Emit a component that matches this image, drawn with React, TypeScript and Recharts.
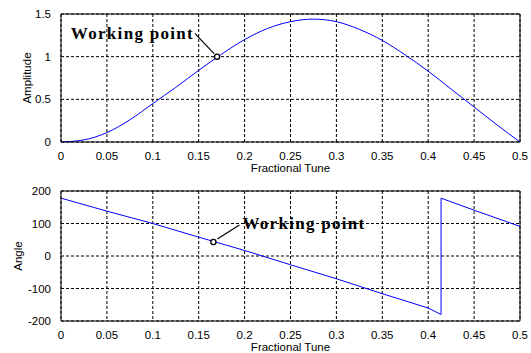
import React from "react";
import {
  LineChart,
  Line,
  XAxis,
  YAxis,
  CartesianGrid,
  ReferenceDot,
  ReferenceLine,
} from "recharts";

// top plot: amplitude vs fractional tune
const tune = [
  0, 0.025, 0.05, 0.075, 0.1, 0.125, 0.15, 0.175, 0.2, 0.225, 0.25, 0.275, 0.3,
  0.325, 0.35, 0.375, 0.4, 0.425, 0.45, 0.475, 0.5,
];
const amplitude = [
  0, 0.025, 0.11, 0.26, 0.45, 0.64, 0.84, 1.03, 1.2, 1.33, 1.41, 1.44, 1.41,
  1.32, 1.19, 1.02, 0.83, 0.62, 0.41, 0.2, 0,
];

// bottom plot: angle vs fractional tune (wraps at ~0.414)
const angleTune = [0, 0.05, 0.1, 0.15, 0.2, 0.25, 0.3, 0.35, 0.4, 0.414, 0.414, 0.45, 0.5];
const angle = [178, 138, 100, 58, 17, -27, -70, -116, -160, -180, 178, 141, 91];

const xTicks = [0, 0.05, 0.1, 0.15, 0.2, 0.25, 0.3, 0.35, 0.4, 0.45, 0.5];
const ampTicks = [0, 0.5, 1, 1.5];
const angleTicks = [-200, -100, 0, 100, 200];

const workingAmp = { x: 0.17, y: 1 };
const workingAngle = { x: 0.166, y: 43 };

const ampData = tune.map((t, i) => ({ t, v: amplitude[i] }));
const angleData = angleTune.map((t, i) => ({ t, v: angle[i] }));

const tickStyle = { fill: "#000", fontSize: 11.5, fontFamily: "Liberation Sans, Arial, sans-serif" };
const labelStyle = { fill: "#000", fontSize: 11.5, fontFamily: "Liberation Sans, Arial, sans-serif" };
const noteStyle = {
  fill: "#000",
  fontSize: 17,
  fontWeight: "bold" as const,
  fontFamily: "Liberation Serif, Times New Roman, serif",
  letterSpacing: 1.3,
};

// open circle with a leader line and text, drawn relative to the dot
const WorkingPoint = (side: "left" | "right") => (props: any) => {
  const { cx, cy } = props;
  if (side === "left") {
    return (
      <g>
        <line x1={cx - 22} y1={cy - 23} x2={cx - 3} y2={cy - 3} stroke="#000" strokeWidth={1.2} />
        <circle cx={cx} cy={cy} r={2.6} fill="#fff" stroke="#000" strokeWidth={1.3} />
        <text x={cx - 23} y={cy - 18} textAnchor="end" style={noteStyle}>
          Working point
        </text>
      </g>
    );
  }
  return (
    <g>
      <line x1={cx + 4} y1={cy - 3} x2={cx + 26} y2={cy - 17} stroke="#000" strokeWidth={1.2} />
      <circle cx={cx} cy={cy} r={2.6} fill="#fff" stroke="#000" strokeWidth={1.3} />
      <text x={cx + 29} y={cy - 13} textAnchor="start" style={noteStyle}>
        Working point
      </text>
    </g>
  );
};

const fmt = (v: number) => String(v);

export default function App() {
  return (
    <div style={{ position: "absolute", left: 0, top: 0, width: 531, height: 353, background: "#fff" }}>
      <LineChart width={531} height={175} data={ampData} margin={{ top: 14, right: 11, bottom: 3, left: 0 }}>
        <CartesianGrid stroke="#000" strokeDasharray="3 2" />
        <XAxis
          dataKey="t"
          type="number"
          domain={[0, 0.5]}
          ticks={xTicks}
          tickFormatter={fmt}
          tick={tickStyle}
          tickLine={false}
          tickMargin={4}
          height={30}
          axisLine={{ stroke: "#000" }}
          label={{ value: "Fractional Tune", position: "insideBottom", offset: 0, style: labelStyle }}
        />
        <YAxis
          type="number"
          domain={[0, 1.5]}
          ticks={ampTicks}
          tickFormatter={fmt}
          tick={tickStyle}
          tickLine={false}
          tickMargin={4}
          width={61}
          axisLine={{ stroke: "#000" }}
          label={{ value: "Amplitude", angle: -90, position: "center", dx: -4, style: labelStyle }}
        />
        <ReferenceLine y={1.5} stroke="#000" />
        <ReferenceLine x={0.5} stroke="#000" />
        <Line
          dataKey="v"
          type="monotone"
          stroke="#0000ff"
          strokeWidth={1}
          dot={false}
          isAnimationActive={false}
        />
        <ReferenceDot x={workingAmp.x} y={workingAmp.y} shape={WorkingPoint("left")} />
      </LineChart>
      <LineChart width={531} height={178} data={angleData} margin={{ top: 16, right: 11, bottom: 2, left: 0 }}>
        <CartesianGrid stroke="#000" strokeDasharray="3 2" />
        <XAxis
          dataKey="t"
          type="number"
          domain={[0, 0.5]}
          ticks={xTicks}
          tickFormatter={fmt}
          tick={tickStyle}
          tickLine={false}
          tickMargin={4}
          height={30}
          axisLine={{ stroke: "#000" }}
          label={{ value: "Fractional Tune", position: "insideBottom", offset: 0, style: labelStyle }}
        />
        <YAxis
          type="number"
          domain={[-200, 200]}
          ticks={angleTicks}
          tickFormatter={fmt}
          tick={tickStyle}
          tickLine={false}
          tickMargin={4}
          width={61}
          axisLine={{ stroke: "#000" }}
          label={{ value: "Angle", angle: -90, position: "center", dx: -13, style: labelStyle }}
        />
        <ReferenceLine y={200} stroke="#000" />
        <ReferenceLine x={0.5} stroke="#000" />
        <Line
          dataKey="v"
          type="linear"
          stroke="#0000ff"
          strokeWidth={1}
          dot={false}
          isAnimationActive={false}
        />
        <ReferenceDot x={workingAngle.x} y={workingAngle.y} shape={WorkingPoint("right")} />
      </LineChart>
    </div>
  );
}
